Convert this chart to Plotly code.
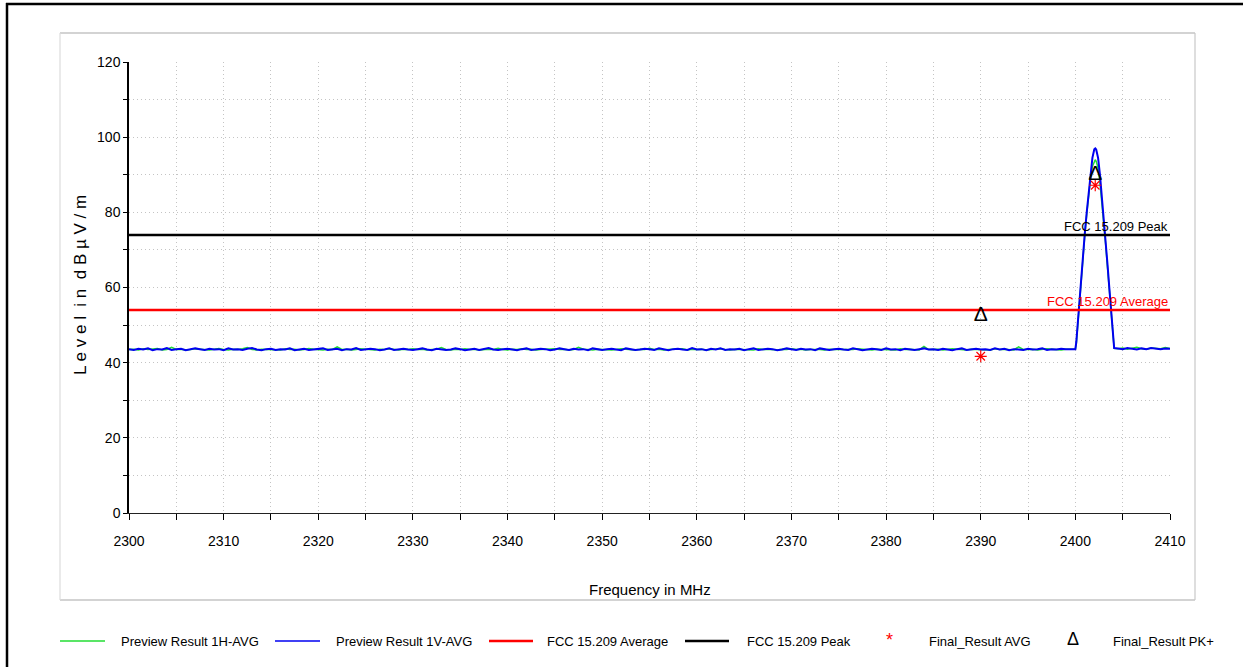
import numpy as np
import plotly.graph_objects as go

# ---- sweep data -------------------------------------------------------------
# noise floor sweep 2300 .. 2400 MHz (0.5 MHz step)
floor_freq = np.linspace(2300.0, 2400.0, 201)
h_floor = [
    43.5, 43.6, 43.4, 43.7, 43.5, 43.6, 43.8, 43.4, 43.5, 44.1,
    43.5, 43.6, 43.4, 43.5, 43.7, 43.6, 43.5, 43.4, 43.6, 43.8,
    43.5, 43.4, 43.6, 43.5, 43.7, 44.0, 43.5, 43.4, 43.6, 43.5,
    43.6, 43.5, 43.4, 43.7, 43.5, 43.6, 43.4, 43.5, 43.8, 43.6,
    43.5, 43.4, 43.6, 43.5, 44.2, 43.5, 43.6, 43.4, 43.5, 43.7,
    43.6, 43.5, 43.4, 43.6, 43.5, 43.7, 43.5, 43.4, 43.6, 43.5,
    43.7, 43.5, 43.6, 43.4, 43.5, 43.6, 44.0, 43.5, 43.4, 43.6,
    43.5, 43.7, 43.5, 43.6, 43.4, 43.5, 43.6, 43.5, 43.8, 43.5,
    43.4, 43.6, 43.5, 43.7, 43.5, 43.6, 43.4, 43.5, 43.6, 43.5,
    43.7, 43.5, 43.6, 43.4, 43.5, 44.1, 43.6, 43.5, 43.4, 43.6,
    43.5, 43.6, 43.4, 43.5, 43.7, 43.6, 43.5, 43.4, 43.6, 43.5,
    43.8, 43.5, 43.6, 43.4, 43.5, 43.6, 43.5, 43.7, 43.4, 43.6,
    43.5, 43.6, 43.4, 43.5, 43.6, 43.7, 43.5, 43.4, 43.6, 43.5,
    43.6, 43.5, 43.4, 43.7, 43.5, 43.6, 43.5, 43.4, 43.6, 43.5,
    43.7, 43.5, 43.6, 43.4, 43.5, 43.6, 43.5, 43.4, 43.6, 43.5,
    43.5, 43.6, 43.4, 43.5, 43.7, 43.6, 43.5, 43.4, 43.6, 43.5,
    43.6, 43.5, 43.4, 43.7, 43.5, 43.6, 43.5, 43.4, 44.3, 43.5,
    43.5, 43.6, 43.4, 43.5, 43.7, 43.6, 43.5, 43.4, 43.6, 43.5,
    43.6, 43.5, 43.4, 43.7, 43.5, 43.6, 43.5, 43.4, 44.2, 43.5,
    43.5, 43.6, 43.4, 43.5, 43.7, 43.6, 43.5, 43.4, 43.6, 43.5,
    43.6,
]
v_floor = [
    43.6, 43.4, 43.7, 43.5, 43.8, 43.3, 43.6, 43.5, 43.9, 43.4,
    43.6, 43.7, 43.3, 43.5, 43.8, 43.6, 43.4, 43.7, 43.5, 43.6,
    43.3, 43.8, 43.5, 43.6, 43.4, 43.7, 43.9, 43.5, 43.3, 43.6,
    43.7, 43.4, 43.6, 43.5, 43.8, 43.3, 43.6, 43.7, 43.4, 43.5,
    43.6, 43.8, 43.4, 43.5, 43.7, 43.3, 43.6, 43.5, 43.9, 43.4,
    43.5, 43.7, 43.6, 43.3, 43.5, 43.8, 43.4, 43.6, 43.7, 43.5,
    43.4, 43.6, 43.8, 43.5, 43.3, 43.7, 43.6, 43.4, 43.5, 43.8,
    43.6, 43.3, 43.5, 43.7, 43.4, 43.6, 43.9, 43.5, 43.4, 43.6,
    43.7, 43.5, 43.3, 43.6, 43.8, 43.4, 43.5, 43.7, 43.6, 43.3,
    43.5, 43.8, 43.6, 43.4, 43.7, 43.5, 43.6, 43.3, 43.8, 43.5,
    43.4, 43.6, 43.7, 43.5, 43.3, 43.8, 43.6, 43.4, 43.5, 43.7,
    43.6, 43.4, 43.8, 43.5, 43.3, 43.6, 43.7, 43.5, 43.4, 43.9,
    43.5, 43.6, 43.3, 43.7, 43.5, 43.8, 43.4, 43.6, 43.5, 43.7,
    43.3, 43.6, 43.8, 43.4, 43.5, 43.7, 43.6, 43.3, 43.5, 43.8,
    43.6, 43.4, 43.7, 43.5, 43.6, 43.3, 43.8, 43.5, 43.4, 43.6,
    43.7, 43.5, 43.4, 43.8, 43.6, 43.3, 43.5, 43.7, 43.6, 43.4,
    43.8, 43.5, 43.6, 43.3, 43.7, 43.5, 43.4, 43.6, 43.8, 43.5,
    43.6, 43.4, 43.7, 43.5, 43.3, 43.6, 43.8, 43.4, 43.5, 43.7,
    43.5, 43.6, 43.4, 43.8, 43.5, 43.7, 43.3, 43.6, 43.5, 43.4,
    43.7, 43.5, 43.6, 43.8, 43.4, 43.6, 43.5, 43.7, 43.6, 43.5,
    43.6,
]

# carrier (2400.1 .. 2404.1 MHz)
peak_freq = [2400.1, 2400.2, 2400.3, 2400.4, 2400.6, 2400.8, 2401.0, 2401.2,
             2401.4, 2401.6, 2401.8, 2402.0, 2402.1, 2402.2, 2402.4, 2402.6,
             2402.8, 2403.0, 2403.2, 2403.4, 2403.6, 2403.8, 2403.9, 2404.0,
             2404.1]
h_peak = [45.0, 48.5, 52.0, 55.5, 62.0, 68.0, 74.0, 79.5, 84.5, 89.0, 92.2,
          93.8, 94.0, 93.6, 91.8, 87.8, 82.8, 77.2, 71.5, 65.2, 59.0, 53.0,
          49.6, 46.2, 43.8]
v_peak = [45.5, 49.0, 52.5, 56.0, 62.5, 68.5, 74.5, 80.0, 85.5, 90.5, 94.5,
          96.8, 97.0, 96.7, 94.5, 90.0, 84.5, 78.5, 72.5, 66.0, 59.5, 53.5,
          50.0, 46.5, 43.9]

# upper band 2404.5 .. 2410 MHz
tail_freq = np.linspace(2404.5, 2410.0, 12)
h_tail = [43.7, 43.9, 43.6, 43.8, 44.1, 43.7, 43.6, 43.9, 43.8, 43.7, 44.0, 43.8]
v_tail = [43.8, 43.6, 43.9, 43.7, 43.5, 43.8, 43.6, 43.9, 43.7, 43.6, 43.8, 43.7]

# limits (dBuV/m)
limit_freq = [2300, 2410]
avg_limit = 54.0
peak_limit = 74.0

# final measurements
avg_freq = [2390.0, 2402.1]
avg_level = [41.7, 87.2]
pk_freq = [2390.0, 2402.1]
pk_level = [52.4, 90.0]

x_ticks = list(range(2300, 2411, 10))
y_ticks = list(range(0, 121, 20))

# ---- styling ----------------------------------------------------------------
FONT = "Liberation Sans, Arial, sans-serif"
GREEN = "#22dd33"
BLUE = "#0000f0"
RED = "#ff0000"
BLACK = "#000000"
W, H = 1243, 667
L, R, T, B = 129, 73, 62, 154  # plot box in px

def xp(px):
    return (px - L) / (W - L - R)

def yp(py):
    return (H - B - py) / (H - T - B)

freq_h = np.concatenate([floor_freq, peak_freq, tail_freq])
freq_v = np.concatenate([floor_freq, peak_freq, tail_freq])
lvl_h = list(h_floor) + list(h_peak) + list(h_tail)
lvl_v = list(v_floor) + list(v_peak) + list(v_tail)

fig = go.Figure()
fig.add_trace(go.Scatter(x=freq_h, y=lvl_h, mode="lines",
                         line=dict(color=GREEN, width=1.5),
                         name="Preview Result 1H-AVG"))
fig.add_trace(go.Scatter(x=freq_v, y=lvl_v, mode="lines",
                         line=dict(color=BLUE, width=2),
                         name="Preview Result 1V-AVG"))
fig.add_trace(go.Scatter(x=limit_freq, y=[avg_limit] * 2, mode="lines",
                         line=dict(color=RED, width=2.5),
                         name="FCC 15.209 Average"))
fig.add_trace(go.Scatter(x=limit_freq, y=[peak_limit] * 2, mode="lines",
                         line=dict(color=BLACK, width=2.5),
                         name="FCC 15.209 Peak"))
fig.add_trace(go.Scatter(x=avg_freq, y=avg_level, mode="markers",
                         marker=dict(symbol="asterisk-open", size=10,
                                     color=RED,
                                     line=dict(color=RED, width=1.2)),
                         name="Final_Result AVG"))
fig.add_trace(go.Scatter(x=pk_freq, y=pk_level, mode="text", text=["Δ"] * 2,
                         textposition="middle center",
                         textfont=dict(family=FONT, size=21, color=BLACK),
                         name="Final_Result PK+"))

grid = dict(showgrid=True, gridcolor="#c4c4c4", gridwidth=1, griddash="1px,3px")
fig.update_xaxes(range=[2300, 2410], tickvals=x_ticks,
                 ticks="outside", ticklen=6, tickcolor=BLACK, tickwidth=1,
                 showline=True, linecolor="#222222", linewidth=1.2,
                 zeroline=False, ticklabelstandoff=9,
                 tickfont=dict(family=FONT, size=14, color=BLACK),
                 minor=dict(dtick=5, ticks="outside", ticklen=6,
                            tickcolor=BLACK, **grid),
                 **grid)
fig.update_yaxes(range=[0, 120], tickvals=y_ticks,
                 ticks="outside", ticklen=4, tickcolor=BLACK, tickwidth=1,
                 showline=True, linecolor=BLACK, linewidth=1.5,
                 zeroline=False,
                 tickfont=dict(family=FONT, size=14, color=BLACK),
                 minor=dict(dtick=10, ticks="outside", ticklen=4,
                            tickcolor=BLACK, **grid),
                 **grid)

shapes = []
# outer frame (top + left edge)
shapes.append(dict(type="line", xref="paper", yref="paper",
                   x0=xp(6), x1=xp(W + 5), y0=yp(4), y1=yp(4),
                   line=dict(color=BLACK, width=2.5)))
shapes.append(dict(type="line", xref="paper", yref="paper",
                   x0=xp(7), x1=xp(7), y0=yp(3), y1=yp(H + 5),
                   line=dict(color=BLACK, width=2.5)))
# chart panel border
for (x0, y0, x1, y1, c) in [(60, 33, 1195, 33, "#a8a8a8"),
                            (60, 600, 1195, 600, "#a8a8a8"),
                            (60, 33, 60, 600, "#dcdcdc"),
                            (1195, 33, 1195, 600, "#c8c8c8")]:
    shapes.append(dict(type="line", xref="paper", yref="paper",
                       x0=xp(x0), x1=xp(x1), y0=yp(y0), y1=yp(y1),
                       line=dict(color=c, width=1.2)))

annotations = []
# limit line labels
annotations.append(dict(x=2410, y=peak_limit, xref="x", yref="y",
                        text="FCC 15.209 Peak", showarrow=False,
                        xanchor="right", yanchor="bottom", yshift=-1,
                        font=dict(family=FONT, size=13, color=BLACK)))
annotations.append(dict(x=2410, y=avg_limit, xref="x", yref="y",
                        text="FCC 15.209 Average", showarrow=False,
                        xanchor="right", yanchor="bottom", yshift=-1,
                        font=dict(family=FONT, size=13, color=RED)))
# axis titles
annotations.append(dict(x=xp(650), y=yp(589), xref="paper", yref="paper",
                        text="Frequency in MHz", showarrow=False,
                        xanchor="center", yanchor="middle",
                        font=dict(family=FONT, size=15, color=BLACK)))
annotations.append(dict(x=xp(80), y=yp(285), xref="paper", yref="paper",
                        text="L e v e l  i n  d B µ V / m", showarrow=False,
                        textangle=-90, xanchor="center", yanchor="middle",
                        font=dict(family=FONT, size=17, color=BLACK)))

# legend row
LEG_Y = 641
legend_lines = [(60, 105, GREEN, 1.5, "Preview Result 1H-AVG", 119),
                (275, 320, BLUE, 1.5, "Preview Result 1V-AVG", 334),
                (489, 533, RED, 2.5, "FCC 15.209 Average", 545),
                (685, 729, BLACK, 2.5, "FCC 15.209 Peak", 745)]
for x0, x1, col, w, label, tx in legend_lines:
    shapes.append(dict(type="line", xref="paper", yref="paper",
                       x0=xp(x0), x1=xp(x1), y0=yp(LEG_Y), y1=yp(LEG_Y),
                       line=dict(color=col, width=w)))
    annotations.append(dict(x=xp(tx), y=yp(LEG_Y), xref="paper", yref="paper",
                            text=label, showarrow=False, xanchor="left",
                            yanchor="middle",
                            font=dict(family=FONT, size=13, color=BLACK)))
annotations.append(dict(x=xp(889), y=yp(LEG_Y - 1), xref="paper", yref="paper",
                        text="*", showarrow=False, xanchor="center",
                        yanchor="middle",
                        font=dict(family=FONT, size=18, color=RED)))
annotations.append(dict(x=xp(927), y=yp(LEG_Y), xref="paper", yref="paper",
                        text="Final_Result AVG", showarrow=False,
                        xanchor="left", yanchor="middle",
                        font=dict(family=FONT, size=13, color=BLACK)))
annotations.append(dict(x=xp(1073), y=yp(LEG_Y - 2), xref="paper", yref="paper",
                        text="Δ", showarrow=False, xanchor="center",
                        yanchor="middle",
                        font=dict(family=FONT, size=18, color=BLACK)))
annotations.append(dict(x=xp(1111), y=yp(LEG_Y), xref="paper", yref="paper",
                        text="Final_Result PK+", showarrow=False,
                        xanchor="left", yanchor="middle",
                        font=dict(family=FONT, size=13, color=BLACK)))

fig.update_layout(width=W, height=H,
                  margin=dict(l=L, r=R, t=T, b=B, pad=0),
                  paper_bgcolor="white", plot_bgcolor="white",
                  showlegend=False, shapes=shapes, annotations=annotations,
                  font=dict(family=FONT, color=BLACK))

fig.write_html("out.html")
